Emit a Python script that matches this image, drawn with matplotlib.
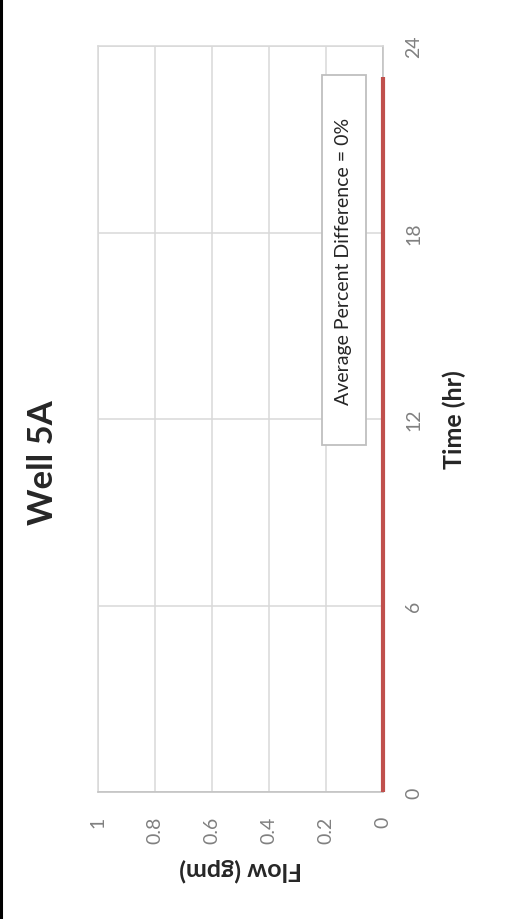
import matplotlib
matplotlib.use('Agg')
import matplotlib.pyplot as plt
from matplotlib.patches import Rectangle
from matplotlib.lines import Line2D

plt.rcParams['font.family'] = ['Lato', 'DejaVu Sans']

# hourly flow, both series sit on zero
time_hr = [0, 1, 2, 3, 4, 5, 6, 7, 8, 9, 10, 11, 12, 13, 14, 15, 16, 17, 18, 19, 20, 21, 22, 23]
flow_gpm = [0, 0, 0, 0, 0, 0, 0, 0, 0, 0, 0, 0, 0, 0, 0, 0, 0, 0, 0, 0, 0, 0, 0, 0]

flow_ticks = [0, 0.2, 0.4, 0.6, 0.8, 1]
flow_labels = ['0', '0.2', '0.4', '0.6', '0.8', '1']
time_ticks = [0, 6, 12, 18, 24]
time_labels = ['0', '6', '12', '18', '24']
avg_pct_diff = 0

fig = plt.figure(figsize=(5.06, 9.2), dpi=100)
ax = fig.add_axes([0.1937, 0.138, 0.5632, 0.8109])

# chart is turned on its side: time runs up, flow runs to the left
ax.plot(flow_gpm, time_hr, color='#c0504d', lw=3, clip_on=False,
        solid_capstyle='butt', zorder=5)
ax.set_xlim(1, 0)
ax.set_ylim(0, 24)

ax.set_xticks(flow_ticks)
ax.set_xticklabels(flow_labels, rotation=90)
ax.yaxis.tick_right()
ax.set_yticks(time_ticks)
ax.set_yticklabels(time_labels, rotation=90, va='center')
ax.tick_params(axis='x', length=0, labelcolor='#808080', labelsize=14, pad=17)
ax.tick_params(axis='y', length=0, labelcolor='#808080', labelsize=14, pad=16)

ax.grid(True, color='#d9d9d9', lw=1.1, zorder=0)
ax.set_axisbelow(True)
ax.spines['left'].set_color('#d9d9d9')
ax.spines['top'].set_color('#d9d9d9')
ax.spines['bottom'].set_color('#bfbfbf')
ax.spines['right'].set_color('#bfbfbf')
for s in ax.spines.values():
    s.set_linewidth(1.1)

# text box
box = Rectangle((0.786, 0.465), 0.154, 0.496, transform=ax.transAxes,
                facecolor='white', edgecolor='#bfbfbf', lw=1.3, zorder=3)
ax.add_patch(box)
ax.text(0.863, 0.713, f'Average Percent Difference = {avg_pct_diff}%',
        transform=ax.transAxes, rotation=90, ha='center', va='center',
        fontsize=14, color='#262626', zorder=4)

ax.text(1.249, 0.5, 'Time (hr)', transform=ax.transAxes, rotation=90,
        ha='center', va='center', fontsize=18, fontweight='bold', color='#262626')
ax.text(0.5, -0.103, 'Flow (gpm)', transform=ax.transAxes, rotation=180,
        ha='center', va='center', fontsize=18, fontweight='bold', color='#262626')

fig.text(0.085, 0.497, 'Well 5A', rotation=90, ha='center', va='center',
         fontsize=25, fontweight='bold', color='#262626')

fig.add_artist(Line2D([1.2 / 506, 1.2 / 506], [0, 1], color='black', lw=2.2,
                      transform=fig.transFigure))

fig.savefig('out.png', dpi=100)
